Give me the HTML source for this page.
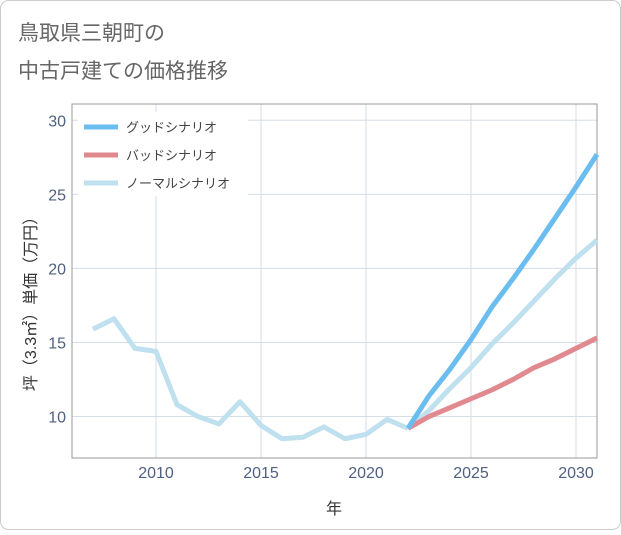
<!DOCTYPE html>
<html><head><meta charset="utf-8"><style>
body{margin:0;background:#fff;}
svg{font-family:"Liberation Sans","Noto Sans CJK JP",sans-serif;}
</style></head><body>
<svg id="c" width="621" height="530" viewBox="0 0 621 530">
<rect x="0.5" y="0.5" width="620" height="529" rx="8" fill="#fff" stroke="#ccc"/>
<text x="18" y="40" font-size="21" fill="#666">鳥取県三朝町の</text>
<text x="18" y="78" font-size="21" fill="#666">中古戸建ての価格推移</text>
<g id="grid"></g>
<rect x="72" y="104" width="525" height="354" fill="none" stroke="#999" stroke-width="1"/>
<g id="series"></g>
<g id="ticks"></g>
<text x="334" y="514" font-size="16" fill="#333" text-anchor="middle">年</text>
<text transform="translate(36,300) rotate(-90)" font-size="16" fill="#333" text-anchor="middle">坪（3.3㎡）単価（万円）</text>
<g>
<rect x="78" y="112" width="170" height="84" fill="#fff"/>
<line x1="84" y1="127" x2="118" y2="127" stroke="#6bbdf0" stroke-width="5"/>
<text x="126" y="132" font-size="13" fill="#444">グッドシナリオ</text>
<line x1="84" y1="155" x2="118" y2="155" stroke="#e08a8f" stroke-width="5"/>
<text x="126" y="160" font-size="13" fill="#444">バッドシナリオ</text>
<line x1="84" y1="183" x2="118" y2="183" stroke="#bfe0ef" stroke-width="5"/>
<text x="126" y="188" font-size="13" fill="#444">ノーマルシナリオ</text>
</g>
</svg>
<script>
const histYears=[2007,2008,2009,2010,2011,2012,2013,2014,2015,2016,2017,2018,2019,2020,2021,2022];
const histValues=[15.9,16.6,14.6,14.4,10.8,10.0,9.5,11.0,9.4,8.5,8.6,9.3,8.5,8.8,9.8,9.2];
const futYears=[2022,2023,2024,2025,2026,2027,2028,2029,2030,2031];
const goodValues=[9.2,11.4,13.2,15.2,17.4,19.3,21.3,23.4,25.5,27.7];
const normalValues=[9.2,10.4,11.9,13.3,14.9,16.3,17.8,19.3,20.7,21.9];
const badValues=[9.2,10.0,10.6,11.2,11.8,12.5,13.3,13.9,14.6,15.3];
const xTicks=[2010,2015,2020,2025,2030];
const yTicks=[10,15,20,25,30];
const NS="http://www.w3.org/2000/svg";
const X=v=>72+(v-2006)*(525/25);
const Y=v=>458-(v-7.2)*(354/23.9);
function mk(t,a,p){const e=document.createElementNS(NS,t);for(const k in a)e.setAttribute(k,a[k]);p.appendChild(e);return e;}
const grid=document.getElementById('grid'),ticks=document.getElementById('ticks'),ser=document.getElementById('series');
xTicks.forEach(v=>{
 const l=mk('line',{x1:X(v),x2:X(v),y1:104,y2:458,stroke:'#d5dde5'},grid);
 
 
 const t=mk('text',{x:X(v),y:478,'font-size':16,fill:'#506080','text-anchor':'middle'},ticks);t.textContent=v;
 
 
});
yTicks.forEach(v=>{
 const l=mk('line',{x1:72,x2:597,y1:Y(v),y2:Y(v),stroke:'#d5dde5'},grid);
 
 
 const t=mk('text',{x:66,y:Y(v)+6,'font-size':16,fill:'#506080','text-anchor':'end'},ticks);t.textContent=v;
 
 
});
function line(xs,ys,color,name){
 const p=mk('polyline',{points:xs.map((x,i)=>X(x)+','+Y(ys[i])).join(' '),fill:'none',stroke:color,'stroke-width':5,'stroke-linejoin':'round'},ser);
 
 
}
line(histYears,histValues,'#bfe0ef','history-line');
line(futYears,normalValues,'#bfe0ef','normal-scenario-line');
line(futYears,badValues,'#e08a8f','bad-scenario-line');
line(futYears,goodValues,'#6bbdf0','good-scenario-line');
</script>
</body></html>
